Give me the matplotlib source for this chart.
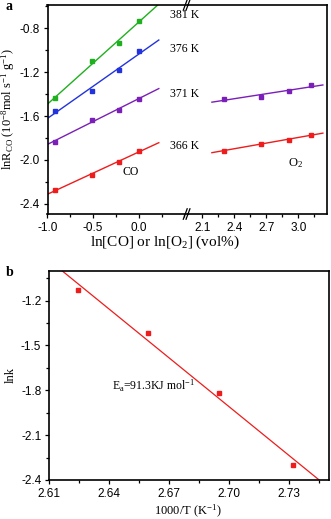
import numpy as np
import matplotlib
matplotlib.use("Agg")
import matplotlib.pyplot as plt
from matplotlib.ticker import MultipleLocator

plt.rcParams['font.family'] = 'Liberation Sans'
plt.rcParams['axes.unicode_minus'] = False
plt.rcParams['mathtext.fontset'] = 'custom'
plt.rcParams['mathtext.rm'] = 'Liberation Serif'
plt.rcParams['mathtext.it'] = 'Liberation Serif:italic'
plt.rcParams['mathtext.bf'] = 'Liberation Serif:bold'

# --- data, panel a (ln rate vs ln concentration) ---
ln_co = [-0.92, -0.51, -0.22, 0.0]
ln_o2 = [2.30, 2.65, 2.91, 3.12]
rate_co = {
    '381 K': [-1.438, -1.101, -0.937, -0.733],
    '376 K': [-1.551, -1.372, -1.177, -1.010],
    '371 K': [-1.834, -1.633, -1.545, -1.442],
    '366 K': [-2.274, -2.134, -2.022, -1.916],
}
rate_o2 = {
    '371 K': [-1.442, -1.429, -1.369, -1.320],
    '366 K': [-1.916, -1.852, -1.815, -1.773],
}
colors = {'381 K': '#1fb01f', '376 K': '#2233dd', '371 K': '#7a1fb8', '366 K': '#ee1c1c'}
label_y = {'381 K': -0.68, '376 K': -0.99, '371 K': -1.40, '366 K': -1.875}

# --- data, panel b (Arrhenius) ---
inv_t = [2.6243, 2.6593, 2.6952, 2.7322]
ln_k = [-1.131, -1.417, -1.82, -2.30]

SERIF = 'Liberation Serif'
W, H = 331, 519
fig = plt.figure(figsize=(W / 100, H / 100), dpi=100)

def px_axes(x0, y0, x1, y1):
    return fig.add_axes([x0 / W, 1 - y1 / H, (x1 - x0) / W, (y1 - y0) / H])

def style(ax):
    ax.tick_params(which='both', direction='out', top=False, right=False,
                   labelsize=8.5, width=0.9, pad=2.5)
    ax.tick_params(which='major', length=3)
    ax.tick_params(which='minor', length=2)
    for s in ax.spines.values():
        s.set_linewidth(1.2)

# ---------------- panel a ----------------
axl = px_axes(47.5, 5, 188, 214)
axr = px_axes(188, 5, 326.7, 214)
axr.patch.set_visible(False)
for ax in (axl, axr):
    style(ax)
    ax.set_ylim(-2.493, -0.588)
axl.set_xlim(-1.0, 0.54)
axr.set_xlim(1.966, 3.266)
axl.spines['right'].set_visible(False)
axr.spines['left'].set_visible(False)
axr.tick_params(axis='y', which='both', left=False, labelleft=False)
axl.xaxis.set_major_locator(MultipleLocator(0.5))
axl.xaxis.set_minor_locator(MultipleLocator(0.25))
axl.yaxis.set_major_locator(MultipleLocator(0.4))
axl.yaxis.set_minor_locator(MultipleLocator(0.2))
axr.xaxis.set_major_locator(MultipleLocator(0.3))
axr.xaxis.set_minor_locator(MultipleLocator(0.15))
axr.set_xticks([2.1, 2.4, 2.7, 3.0])
axl.set_xticks([-1.0, -0.5, 0.0])
axl.yaxis.set_major_formatter(plt.FormatStrFormatter('%.1f'))
axl.xaxis.set_major_formatter(plt.FormatStrFormatter('%.1f'))
axr.xaxis.set_major_formatter(plt.FormatStrFormatter('%.1f'))

for name, ys in rate_co.items():
    c = colors[name]
    axl.plot(ln_co, ys, 's', color=c, ms=3.5, mec=c)
    k, b = np.polyfit(ln_co, ys, 1)
    xx = np.array([-1.0, 0.22])
    axl.plot(xx, k * xx + b, '-', color=c, lw=1)
    axl.text(0.34, label_y[name], name, family=SERIF, fontsize=8.5,
             va='center', ha='left', clip_on=False)

for name, ys in rate_o2.items():
    c = colors[name]
    axr.plot(ln_o2, ys, 's', color=c, ms=3.5, mec=c)
    k, b = np.polyfit(ln_o2, ys, 1)
    xx = np.array([2.19, 3.23])
    axr.plot(xx, k * xx + b, '-', color=c, lw=1)

axl.text(-0.09, -2.107, 'CO', family=SERIF, fontsize=8.5, ha='center', va='center')
axr.text(2.97, -2.03, r'$\mathrm{O_2}$', fontsize=9, ha='center', va='center')

# break marks
for yy in (0, 1):
    for dx in (-0.02, 0.0):
        axr.plot([dx - 0.014, dx + 0.014], [yy - 0.025, yy + 0.025], color='k',
                 lw=0.9, transform=axr.transAxes, clip_on=False, zorder=5)

axl.set_ylabel(r'$\mathrm{lnR_{CO}\ (10^{-8}mol\ s^{-1}\ g^{-1})}$', fontsize=9, labelpad=2)
fig.text(165 / W, 1 - 242 / H, r'$\mathrm{ln[CO]\ or\ ln[O_2]\ (vol\%)}$',
         fontsize=11, ha='center', va='center')
fig.text(9 / W, 1 - 7 / H, 'a', family=SERIF, fontweight='bold', fontsize=10,
         ha='center', va='center')

# ---------------- panel b ----------------
axb = px_axes(49, 270.7, 329, 480)
style(axb)
axb.set_xlim(2.61, 2.75)
axb.set_ylim(-2.4, -1.0)
axb.xaxis.set_major_locator(MultipleLocator(0.03))
axb.xaxis.set_minor_locator(MultipleLocator(0.015))
axb.set_xticks([2.61, 2.64, 2.67, 2.70, 2.73])
axb.yaxis.set_major_locator(MultipleLocator(0.3))
axb.yaxis.set_minor_locator(MultipleLocator(0.15))
axb.set_yticks([-2.4, -2.1, -1.8, -1.5, -1.2])
axb.xaxis.set_major_formatter(plt.FormatStrFormatter('%.2f'))
axb.yaxis.set_major_formatter(plt.FormatStrFormatter('%.1f'))

axb.plot(inv_t, ln_k, 's', color='#ee1c1c', ms=3.5)
k, b = np.polyfit(inv_t, ln_k, 1)
xx = np.array([2.61, 2.75])
axb.plot(xx, k * xx + b, '-', color='#ee1c1c', lw=0.9)
axb.text(2.6413, -1.77, r'$\mathrm{E_a}$=91.3KJ mol$^{-1}$', family=SERIF,
         fontsize=8.5, ha='left', va='center')

axb.set_ylabel('lnk', family=SERIF, fontsize=9, labelpad=3)
fig.text(188 / W, 1 - 511 / H, r'$\mathrm{1000/T\ (K^{-1})}$', fontsize=9,
         ha='center', va='center')
fig.text(10 / W, 1 - 273 / H, 'b', family=SERIF, fontweight='bold', fontsize=10,
         ha='center', va='center')

fig.savefig('out.png', dpi=100)
